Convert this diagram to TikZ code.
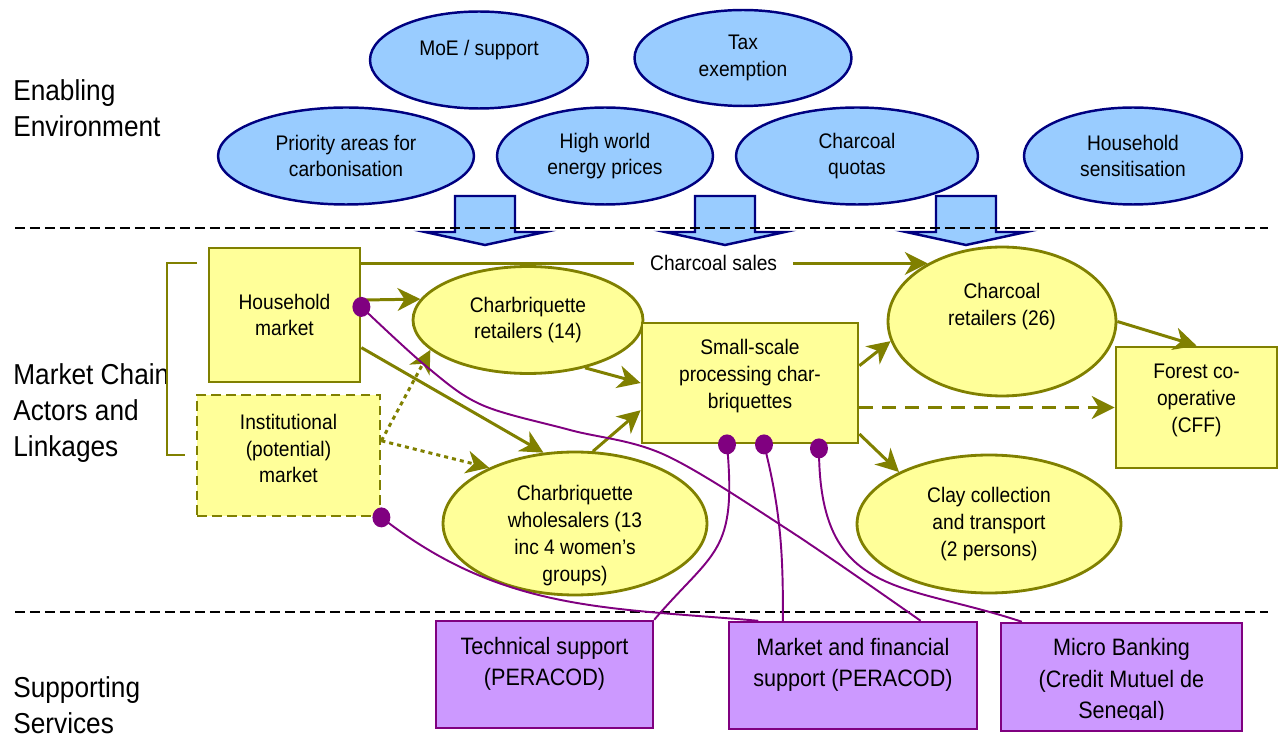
\documentclass[tikz,border=0pt]{standalone}
\usepackage{fontspec}
\setmainfont{Liberation Sans}[FakeStretch=0.91]
\usetikzlibrary{shapes.geometric,arrows.meta}

\definecolor{skyfill}{HTML}{99CCFF}
\definecolor{navyline}{HTML}{000080}
\definecolor{lemonfill}{HTML}{FFFF99}
\definecolor{oliveline}{HTML}{808000}
\definecolor{lilacfill}{HTML}{CC99FF}
\definecolor{plumline}{HTML}{800080}

\newcommand{\boxfont}{\fontsize{12}{15.3}\selectfont}
\newcommand{\svcfont}{\fontsize{13.5}{18}\selectfont}
\newcommand{\tierfont}{\fontsize{16.4}{20.4}\selectfont}

\tikzset{
  enabler/.style={ellipse, draw=navyline, fill=skyfill, line width=1.4pt, align=center, font=\boxfont, inner sep=0pt},
  policyarrow/.style={draw=navyline, fill=skyfill, line width=1.4pt, line join=miter},
  actorbox/.style={rectangle, draw=oliveline, fill=lemonfill, line width=1.6pt, align=center, font=\boxfont, inner sep=0pt},
  actoroval/.style={ellipse, draw=oliveline, fill=lemonfill, line width=1.6pt, align=center, font=\boxfont, inner sep=0pt},
  servicebox/.style={rectangle, draw=plumline, fill=lilacfill, line width=1.4pt, align=center, font=\svcfont, inner sep=0pt},
  boxtext/.style={align=center, font=\boxfont, inner sep=0pt},
  svctext/.style={align=center, font=\svcfont, inner sep=0pt},
  tierlabel/.style={align=left, font=\tierfont, inner sep=0pt, anchor=west},
  tier/.style={draw=black, line width=1.1pt, dash pattern=on 0.2cm off 0.1cm},
  flow/.style={draw=oliveline, line width=1.7pt, -{Stealth[length=13pt,width=13pt,inset=4pt]}},
  maybeflow/.style={flow, dash pattern=on 2.3pt off 2.3pt},
  plannedflow/.style={flow, dash pattern=on 8pt off 5pt},
  supportlink/.style={draw=plumline, line width=1.1pt},
  linkdot/.style={ellipse, fill=plumline, minimum width=0.36cm, minimum height=0.4cm, inner sep=0pt},
}

\begin{document}
\begin{tikzpicture}[x=0.02cm, y=0.02cm]
  \useasboundingbox (0,0) rectangle (1282,-736);

  % tier names
  \node[tierlabel] (enabling) at (13,-108) {Enabling\\Environment};
  \node[tierlabel] (chain) at (13,-413) {Market Chain\\Actors and\\Linkages};
  \node[tierlabel] (supporting) at (13,-705) {Supporting\\Services};

  % enabling environment
  \node[enabler, minimum width=4.36cm, minimum height=1.94cm,
        label={[boxtext, yshift=0.2cm]center:MoE / support}] (moe) at (479,-60) {};
  \node[enabler, minimum width=4.34cm, minimum height=1.92cm] (tax) at (743,-58) {Tax\\exemption};
  \node[enabler, minimum width=5.12cm, minimum height=1.94cm] (prio) at (346,-156) {Priority areas for\\carbonisation};
  \node[enabler, minimum width=4.32cm, minimum height=1.94cm] (hiprice) at (605,-156) {High world\\energy prices};
  \node[enabler, minimum width=4.84cm, minimum height=1.94cm] (quota) at (857,-156) {Charcoal\\quotas};
  \node[enabler, minimum width=4.36cm, minimum height=1.94cm] (sens) at (1133,-156) {Household\\sensitisation};

  \foreach \c in {485,725,966}
    \draw[policyarrow] (\c-30,-196) -- (\c+30,-196) -- (\c+30,-232) -- (\c+60,-232)
      -- (\c,-245) -- (\c-60,-232) -- (\c-30,-232) -- cycle;

  % tier borders
  \draw[tier] (15,-228) -- (1268,-228);
  \draw[tier] (15,-612) -- (1268,-612);

  % market chain
  \draw[draw=oliveline, line width=1.6pt] (197,-263) -- (167,-263) -- (167,-455) -- (185,-455);

  \node[actorbox, minimum width=3.02cm, minimum height=2.68cm] (hhmkt) at (284.5,-315) {Household\\market};
  \node[actorbox, dash pattern=on 5.5pt off 3pt, minimum width=3.66cm, minimum height=2.42cm,
        label={[boxtext, yshift=0.14cm]center:Institutional\\(potential)\\market}] (instmkt) at (288.5,-455.5) {};
  \node[actoroval, minimum width=4.6cm, minimum height=2.14cm] (cbret) at (528,-320) {Charbriquette\\retailers (14)};
  \node[actoroval, minimum width=5.28cm, minimum height=2.86cm,
        label={[boxtext, yshift=-0.24cm]center:Charbriquette\\wholesalers (13\\inc 4 women's\\groups)}] (cbwhole) at (575,-523.5) {};
  \node[actorbox, minimum width=4.32cm, minimum height=2.4cm,
        label={[boxtext, yshift=0.14cm]center:Small-scale\\processing char-\\briquettes}] (proc) at (750,-383) {};
  \node[actoroval, minimum width=4.56cm, minimum height=2.98cm,
        label={[boxtext, yshift=0.3cm]center:Charcoal\\retailers (26)}] (charret) at (1002,-321.5) {};
  \node[actoroval, minimum width=5.28cm, minimum height=2.76cm] (clay) at (989,-524) {Clay collection\\and transport\\(2 persons)};
  \node[actorbox, minimum width=3.22cm, minimum height=2.42cm,
        label={[boxtext, yshift=0.14cm]center:Forest co-\\operative\\(CFF)}] (forest) at (1196.5,-407.5) {};

  \draw[flow] (hhmkt.east |- charret.142) -- node[pos=0.622, fill=white, inner xsep=0.32cm, inner ysep=1pt, font=\boxfont] (salestext) {Charcoal sales} (charret.142);
  \draw[flow] (hhmkt.11) -- (cbret.169);
  \draw[flow] (hhmkt.-23) -- (cbwhole.114);
  \draw[maybeflow] (instmkt.9.6) -- (cbret.197);
  \draw[maybeflow] (instmkt.9.6) -- (cbwhole.147);
  \draw[flow] (cbret.-40) -- (proc.west);
  \draw[flow] (cbwhole.76) -- (proc.194);
  \draw[flow] (proc.9.5) -- (charret.190);
  \draw[flow] (proc.-25) -- (clay.150);
  \draw[plannedflow] (proc.east |- forest.west) -- (forest.west);
  \draw[flow] (charret.east) -- (forest.north);

  % supporting services
  \node[servicebox, minimum width=4.34cm, minimum height=2.14cm,
        label={[svctext, yshift=0.21cm]center:Technical support\\(PERACOD)}] (tech) at (544.5,-674.5) {};
  \node[servicebox, minimum width=4.96cm, minimum height=2.14cm,
        label={[svctext, yshift=0.21cm]center:Market and financial\\support (PERACOD)}] (mfin) at (853,-675.5) {};
  \node[servicebox, minimum width=4.82cm, minimum height=2.16cm] (micro) at (1121.5,-677) {};
  \begin{scope}
    \clip (micro.north west) rectangle ([yshift=0.26cm]micro.south east);
    \node[svctext] (microtext) at ([yshift=-0.08cm]micro.center) {Micro Banking\\(Credit Mutuel de\\Senegal)};
  \end{scope}

  \coordinate (hhpin) at (hhmkt.6);
  \coordinate (instpin) at (instmkt.south east);
  \coordinate (procpinA) at ([xshift=-0.46cm]proc.south);
  \coordinate (procpinB) at ([xshift=0.28cm]proc.south);
  \coordinate (procpinC) at ([xshift=1.38cm, yshift=-0.08cm]proc.south);

  \draw[supportlink] plot[smooth, tension=0.55] coordinates {(hhpin) (427,-367) (482,-405) (570,-430) (665,-455) (790,-531) (mfin.39)};
  \draw[supportlink] (instpin) to[out=-38, in=175] (mfin.150);
  \draw[supportlink] (procpinA) .. controls +(10,-110) and +(60,70) .. (tech.north east);
  \draw[supportlink] (procpinB) .. controls +(18,-70) and +(0,60) .. (mfin.142.6);
  \draw[supportlink] (procpinC) .. controls +(0,-150) and +(-120,40) .. (micro.151.5);

  \node[linkdot] (hhdot) at (hhpin) {};
  \node[linkdot] (instdot) at (instpin) {};
  \node[linkdot] (procdotA) at (procpinA) {};
  \node[linkdot] (procdotB) at (procpinB) {};
  \node[linkdot] (procdotC) at (procpinC) {};
\end{tikzpicture}
\end{document}
